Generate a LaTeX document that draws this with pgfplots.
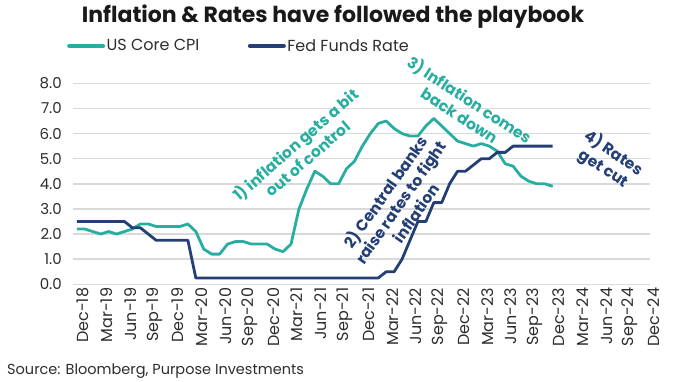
\documentclass[border=0pt]{standalone}
\usepackage{fontspec}
\setmainfont{Poppins}
\usepackage{pgfplots}
\pgfplotsset{compat=1.18}
\usepackage{pgfplotstable}
\definecolor{teal1}{RGB}{40,174,160}
\definecolor{navy1}{RGB}{36,62,118}
\definecolor{gridc}{RGB}{217,217,217}
\definecolor{txt}{RGB}{45,45,45}

\pgfplotstableread{
m v
0 2.2
1 2.2
2 2.1
3 2.0
4 2.1
5 2.0
6 2.1
7 2.2
8 2.4
9 2.4
10 2.3
11 2.3
12 2.3
13 2.3
14 2.4
15 2.1
16 1.4
17 1.2
18 1.2
19 1.6
20 1.7
21 1.7
22 1.6
23 1.6
24 1.6
25 1.4
26 1.3
27 1.6
28 3.0
29 3.8
30 4.5
31 4.3
32 4.0
33 4.0
34 4.6
35 4.9
36 5.5
37 6.0
38 6.4
39 6.5
40 6.2
41 6.0
42 5.9
43 5.9
44 6.3
45 6.6
46 6.3
47 6.0
48 5.7
49 5.6
50 5.5
51 5.6
52 5.5
53 5.3
54 4.8
55 4.7
56 4.3
57 4.1
58 4.0
59 4.0
60 3.9
}\cpi

\pgfplotstableread{
m v
0 2.5
1 2.5
2 2.5
3 2.5
4 2.5
5 2.5
6 2.5
7 2.25
8 2.25
9 2.0
10 1.75
11 1.75
12 1.75
13 1.75
14 1.75
15 0.25
16 0.25
17 0.25
18 0.25
19 0.25
20 0.25
21 0.25
22 0.25
23 0.25
24 0.25
25 0.25
26 0.25
27 0.25
28 0.25
29 0.25
30 0.25
31 0.25
32 0.25
33 0.25
34 0.25
35 0.25
36 0.25
37 0.25
38 0.25
39 0.5
40 0.5
41 1.0
42 1.75
43 2.5
44 2.5
45 3.25
46 3.25
47 4.0
48 4.5
49 4.5
50 4.75
51 5.0
52 5.0
53 5.25
54 5.25
55 5.5
56 5.5
57 5.5
58 5.5
59 5.5
60 5.5
}\fed

\begin{document}
\begin{tikzpicture}
\useasboundingbox (0,0) rectangle (673pt,382pt);
\begin{axis}[
  at={(73.3pt,97.7pt)}, anchor=south west,
  scale only axis, width=577pt, height=201pt,
  xmin=-0.45, xmax=72.3, ymin=0, ymax=8,
  axis line style={draw=none},
  major tick length=0pt,
  ytick={0,1,...,8},
  ymajorgrids, grid style={gridc, line width=1.5pt},
  xtick={0,3,...,72},
  xticklabels={Dec-18,Mar-19,Jun-19,Sep-19,Dec-19,Mar-20,Jun-20,Sep-20,Dec-20,Mar-21,Jun-21,Sep-21,Dec-21,Mar-22,Jun-22,Sep-22,Dec-22,Mar-23,Jun-23,Sep-23,Dec-23,Mar-24,Jun-24,Sep-24,Dec-24},
  x tick label style={rotate=90, anchor=east, font=\fontsize{16}{16}\selectfont, text=txt, yshift=-6pt},
  y tick label style={font=\fontsize{15}{15}\selectfont, text=txt, xshift=-8pt},
  /pgf/number format/assume math mode=true,
  yticklabel style={/pgf/number format/.cd, fixed, fixed zerofill, precision=1},
  legend style={at={(rel axis cs:-0.011,1.186)}, anchor=west, draw=none, fill=none,
    font=\fontsize{16}{16}\selectfont, text=txt, inner xsep=0pt,
    nodes={inner xsep=1.5pt},
    /tikz/every even column/.append style={column sep=47pt}},
  legend columns=2,
  legend image code/.code={\draw[#1, line width=4pt, line cap=round] (0pt,0pt) -- (34pt,0pt);},
]
\addplot[teal1, line width=2.8pt, line join=round] table[x=m, y=v] {\cpi};
\addlegendentry{US Core CPI}
\addplot[navy1, line width=2.8pt, line join=round] table[x=m, y=v] {\fed};
\addlegendentry{Fed Funds Rate}
\end{axis}
\node[font=\bfseries\fontsize{22}{22}\selectfont, text=black!90] at (333pt,365pt) {Inflation \& Rates have followed the playbook};
\node[rotate=41, text=teal1, font=\bfseries\fontsize{15.5}{18.5}\selectfont, align=center] at (301pt,231pt) {1) inflation gets a bit\\out of control};
\node[rotate=55, text=navy1, font=\bfseries\fontsize{15.5}{18.5}\selectfont, align=center] at (400pt,180pt) {2) Central banks\\raise rates to fight\\inflation};
\node[rotate=-33, text=teal1, font=\bfseries\fontsize{15.5}{18.5}\selectfont, align=center] at (465pt,275pt) {3) Inflation comes\\back down};
\node[rotate=-34, text=navy1, font=\bfseries\fontsize{15.5}{18.5}\selectfont, align=center] at (609pt,221pt) {4) Rates\\get cut};
\node[anchor=west, font=\fontsize{14.5}{14.5}\selectfont, text=txt, inner sep=0pt] at (7pt,11pt) {Source: Bloomberg, Purpose Investments};
\end{tikzpicture}
\end{document}
